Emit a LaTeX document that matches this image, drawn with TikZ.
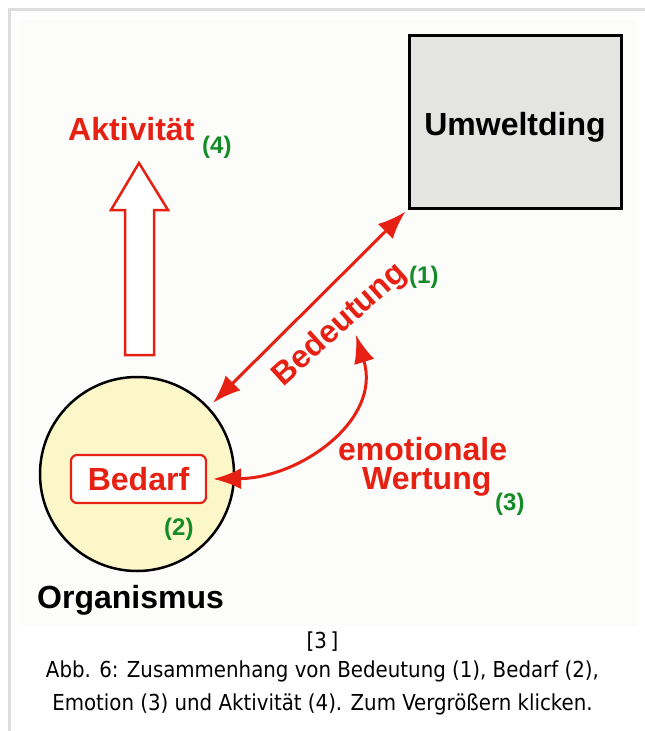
\documentclass[tikz,border=0pt]{standalone}
\usepackage{fontspec}
\setmainfont{Liberation Sans}
\newfontfamily\capfont{DejaVu Sans Condensed}
\usetikzlibrary{arrows.meta}
\definecolor{dred}{RGB}{230,32,18}
\definecolor{dgreen}{RGB}{22,140,40}
\definecolor{orgfill}{RGB}{252,247,200}
\definecolor{boxfill}{RGB}{228,229,227}
\definecolor{framegray}{RGB}{221,221,221}
\definecolor{panel}{RGB}{252,252,250}
\begin{document}
\begin{tikzpicture}[x=1pt,y=-1pt,
  lbl/.style={font=\fontsize{32}{36}\selectfont\bfseries, inner sep=0pt},
  redlbl/.style={lbl, text=dred},
  num/.style={font=\fontsize{24}{28}\selectfont\bfseries, text=dgreen, inner sep=0pt},
  redarrow/.style={draw=dred, line width=3pt,
    {Latex[length=28pt,width=21pt]}-{Latex[length=28pt,width=21pt]}},
  capline/.style={font=\capfont\fontsize{22}{24}\selectfont, inner sep=0pt, anchor=base}
]
\useasboundingbox (0,0) rectangle (645,731);
\fill[white] (0,0) rectangle (645,731);
\fill[panel] (20,20) rectangle (638,626);
\draw[framegray, line width=3pt] (9.5,731) -- (9.5,9.5) -- (645,9.5);

% Umweltding box
\node[draw=black, line width=3pt, fill=boxfill, minimum width=212pt, minimum height=173pt] (umw) at (515,121.5) {};
\node[lbl, text=black, anchor=base] (umwl) at (515,135) {Umweltding};

% Organismus circle
\node[draw=black, line width=2.5pt, fill=orgfill, circle, minimum size=194pt, inner sep=0pt] (org) at (137,474) {};
\node[draw=dred, line width=2.2pt, fill=white, rounded corners=6pt, minimum width=135pt, minimum height=48pt,
      redlbl] (bed) at (138.5,479) {Bedarf};
\node[num, anchor=base west] (n2) at (164,535) {(2)};
\node[lbl, anchor=base west] (orgl) at (37,608) {Organismus};

% Activity arrow
\draw[draw=dred, line width=2.5pt, fill=white, line join=miter]
  (125,355) -- (125,210) -- (111,210) -- (139,163) -- (168,210) -- (154,210) -- (154,355) -- cycle;
\node[redlbl, anchor=base west] (akt) at (68,140) {Aktivität};
\node[num, anchor=base west] (n4) at (202,153) {(4)};

% Bedeutung arrow
\draw[redarrow, shorten <=6pt, shorten >=3pt] (org.43) -- (umw.south west);
\node[redlbl, rotate=42] (bdt) at (340,325) {Bedeutung};
\node[num, anchor=base west] (n1) at (409,283) {(1)};

% emotionale Wertung arrow
\coordinate (ewt) at (356,335);
\draw[redarrow, shorten <=6pt] (bed.east) .. controls (300,478) and (382,420) .. (ewt);
\node[redlbl, anchor=base west] (emo) at (338,460) {emotionale};
\node[redlbl, anchor=base west] (wer) at (362,489) {Wertung};
\node[num, anchor=base west] (n3) at (495,510) {(3)};

% caption
\node[capline] (c0) at (322.5,648) {[3\,]};
\node[capline] (c1) at (322.5,677) {Abb. 6: Zusammenhang von Bedeutung (1), Bedarf (2),};
\node[capline] (c2) at (322.5,710) {Emotion (3) und Aktivität (4). Zum Vergrößern klicken.};
\end{tikzpicture}
\end{document}
